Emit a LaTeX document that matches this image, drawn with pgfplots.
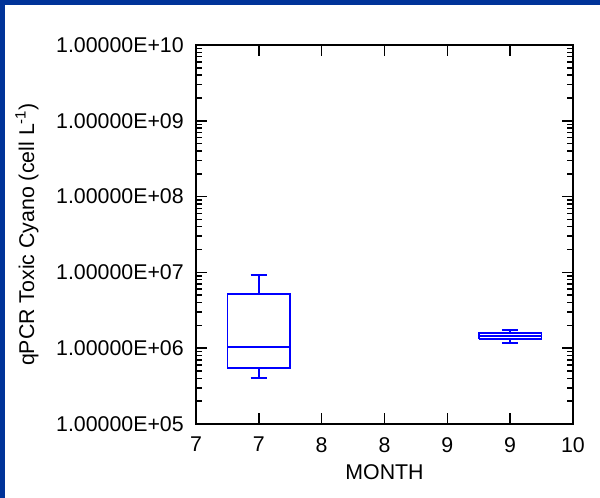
\documentclass[border=0pt]{standalone}
\usepackage{fontspec}
\setmainfont{Liberation Sans}
\usepackage{pgfplots}
\pgfplotsset{compat=1.18}
\definecolor{frameblue}{RGB}{0,51,153}
\definecolor{boxblue}{RGB}{0,0,255}
\tikzset{bx/.style={boxblue, line width=1.3pt, mark=none, solid}}

\begin{document}
\begin{tikzpicture}
  % page = 600x498 px at 0.75pt/px
  \fill[white] (0,0) rectangle (450pt,373.5pt);
  \fill[frameblue] (0,0) rectangle (3.75pt,373.5pt);
  \fill[frameblue] (0,369.75pt) rectangle (450pt,373.5pt);
  \begin{axis}[
    at={(147pt,55.5pt)}, anchor=south west,
    scale only axis,
    width=282.75pt, height=284.25pt,
    xmin=7, xmax=10,
    ymode=log, ymin=1e5, ymax=1e10,
    xtick={7,7.5,8,8.5,9,9.5,10},
    xticklabels={7,7,8,8,9,9,10},
    ytickten={5,6,7,8,9,10},
    yticklabel={\pgfmathtruncatemacro\ex{round(\tick/ln(10))}1.00000E+\ifnum\ex<10 0\fi\ex},
    tick align=inside,
    major tick length=0pt, minor tick length=0pt,
    axis line style={line width=1.1pt},
    tick label style={font=\fontsize{16}{19}\selectfont, inner sep=0pt},
    yticklabel style={xshift=-9pt},
    xticklabel style={yshift=-9.75pt},
    xlabel={MONTH},
    ylabel={qPCR Toxic Cyano (cell L\textsuperscript{-1})},
    every axis x label/.style={at={(rel axis cs:0.5,0)}, yshift=-36pt, anchor=center,
      font=\fontsize{16}{19}\selectfont},
    every axis y label/.style={at={(rel axis cs:0,0.5)}, xshift=-126.75pt, rotate=90, anchor=center,
      font=\fontsize{16}{19}\selectfont},
  ]
    % July (draw position 7.5): box, median, whiskers
    \addplot[bx] coordinates {(7.25,5.43e5) (7.75,5.43e5) (7.75,5.24e6) (7.25,5.24e6) (7.25,5.43e5)};
    \addplot[bx] coordinates {(7.25,1.03e6) (7.75,1.03e6)};
    \addplot[bx] coordinates {(7.5,5.24e6) (7.5,9.16e6)};
    \addplot[bx] coordinates {(7.435,9.16e6) (7.565,9.16e6)};
    \addplot[bx] coordinates {(7.5,5.43e5) (7.5,4.08e5)};
    \addplot[bx] coordinates {(7.435,4.08e5) (7.565,4.08e5)};
    % September (draw position 9.5)
    \addplot[bx] coordinates {(9.25,1.32e6) (9.75,1.32e6) (9.75,1.57e6) (9.25,1.57e6) (9.25,1.32e6)};
    \addplot[bx] coordinates {(9.25,1.46e6) (9.75,1.46e6)};
    \addplot[bx] coordinates {(9.5,1.57e6) (9.5,1.72e6)};
    \addplot[bx] coordinates {(9.435,1.72e6) (9.565,1.72e6)};
    \addplot[bx] coordinates {(9.5,1.32e6) (9.5,1.17e6)};
    \addplot[bx] coordinates {(9.435,1.17e6) (9.565,1.17e6)};
  \end{axis}
  % tick marks drawn by hand on the axis frame (147pt..429.75pt, 55.5pt..339.75pt)
  \begin{scope}[black, line width=1.1pt]
    \foreach \i in {1,...,5} {
      \pgfmathsetmacro\tx{147+\i*47.125}
      \draw (\tx pt,55.5pt) -- ++(0,8.25pt);
      \draw (\tx pt,339.75pt) -- ++(0,-8.25pt);
    }
    \foreach \d in {1,...,4} {
      \pgfmathsetmacro\ty{55.5+\d*56.85}
      \draw (147pt,\ty pt) -- ++(8.25pt,0);
      \draw (429.75pt,\ty pt) -- ++(-8.25pt,0);
    }
    \foreach \d in {0,...,4} {
      \foreach \k in {2,...,9} {
        \pgfmathsetmacro\ty{55.5+(\d+log10(\k))*56.85}
        \draw (147pt,\ty pt) -- ++(4.5pt,0);
        \draw (429.75pt,\ty pt) -- ++(-4.5pt,0);
      }
    }
  \end{scope}
\end{tikzpicture}
\end{document}
